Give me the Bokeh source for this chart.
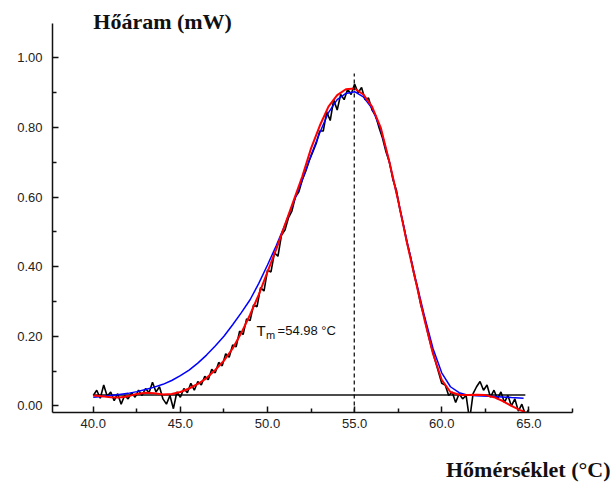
from bokeh.plotting import figure
from bokeh.models import Label, FixedTicker, Range1d, NumeralTickFormatter
from bokeh.embed import file_html
from bokeh.resources import INLINE

data_x = [40.0, 40.2, 40.4, 40.6, 40.8, 41.0, 41.2, 41.4, 41.6, 41.8,
          42.0, 42.2, 42.4, 42.6, 42.8, 43.0, 43.2, 43.4, 43.6, 43.8,
          44.0, 44.2, 44.4, 44.6, 44.8, 45.0, 45.2, 45.4, 45.6, 45.8,
          46.0, 46.2, 46.4, 46.6, 46.8, 47.0, 47.2, 47.4, 47.6, 47.8,
          48.0, 48.2, 48.4, 48.6, 48.8, 49.0, 49.2, 49.4, 49.6, 49.8,
          50.0, 50.2, 50.4, 50.6, 50.8, 51.0, 51.2, 51.4, 51.6, 51.8,
          52.0, 52.2, 52.4, 52.6, 52.8, 53.0, 53.2, 53.4, 53.6, 53.8,
          54.0, 54.2, 54.4, 54.6, 54.8, 55.0, 55.2, 55.4, 55.6, 55.8,
          56.0, 56.2, 56.4, 56.6, 56.8, 57.0, 57.2, 57.4, 57.6, 57.8,
          58.0, 58.2, 58.4, 58.6, 58.8, 59.0, 59.2, 59.4, 59.6, 59.8,
          60.0, 60.2, 60.4, 60.6, 60.8, 61.0, 61.2, 61.4, 61.6, 61.8,
          62.0, 62.2, 62.4, 62.6, 62.8, 63.0, 63.2, 63.4, 63.6, 63.8,
          64.0, 64.2, 64.4, 64.6, 64.8, 65.0]
data_y = [0.030, 0.045, 0.022, 0.060, 0.028, 0.040, 0.015, 0.035, 0.005, 0.030,
          0.020, 0.038, 0.025, 0.045, 0.030, 0.050, 0.038, 0.068, 0.040, 0.055,
          0.020, 0.005, 0.030, -0.008, 0.040, 0.025, 0.050, 0.038, 0.065, 0.045,
          0.070, 0.060, 0.085, 0.075, 0.105, 0.095, 0.125, 0.115, 0.150, 0.140,
          0.175, 0.170, 0.215, 0.205, 0.250, 0.245, 0.290, 0.285, 0.340, 0.330,
          0.390, 0.385, 0.440, 0.430, 0.490, 0.505, 0.540, 0.560, 0.600, 0.615,
          0.650, 0.675, 0.705, 0.730, 0.755, 0.790, 0.790, 0.845, 0.820, 0.880,
          0.850, 0.895, 0.880, 0.910, 0.895, 0.925, 0.900, 0.915, 0.880, 0.885,
          0.850, 0.835, 0.800, 0.770, 0.730, 0.700, 0.650, 0.620, 0.565, 0.520,
          0.470, 0.430, 0.380, 0.340, 0.290, 0.255, 0.210, 0.170, 0.135, 0.100,
          0.065, 0.060, 0.030, 0.040, 0.010, 0.035, 0.020, 0.030, -0.040, 0.035,
          0.055, 0.070, 0.045, 0.060, 0.025, 0.045, 0.020, 0.040, 0.010, 0.030,
          0.000, 0.020, -0.015, 0.005, -0.025, -0.010]

# ---- red fit ----
red_x = [40.0, 40.5, 41.0, 41.5, 42.0, 42.5, 43.0, 43.5, 44.0, 44.5,
         45.0, 45.5, 46.0, 46.5, 47.0, 47.5, 48.0, 48.5, 49.0, 49.5,
         50.0, 50.5, 51.0, 51.5, 52.0, 52.5, 53.0, 53.5, 54.0, 54.5,
         55.0, 55.5, 56.0, 56.5, 57.0, 57.5, 58.0, 58.5, 59.0, 59.5,
         60.0, 60.5, 61.0, 61.5, 62.0, 62.5, 63.0, 63.5, 64.0, 64.5, 64.8]
red_y = [0.030, 0.028, 0.025, 0.024, 0.028, 0.034, 0.038, 0.036, 0.033, 0.034,
         0.040, 0.050, 0.063, 0.080, 0.103, 0.130, 0.165, 0.210, 0.262, 0.320,
         0.385, 0.450, 0.520, 0.590, 0.660, 0.740, 0.805, 0.860, 0.893, 0.910,
         0.912, 0.895, 0.860, 0.800, 0.700, 0.590, 0.470, 0.360, 0.250, 0.150,
         0.075, 0.040, 0.032, 0.031, 0.032, 0.031, 0.025, 0.014, 0.000, -0.012, -0.018]

# ---- blue fit ----
blue_x = [40.0, 40.5, 41.0, 41.5, 42.0, 42.5, 43.0, 43.5, 44.0, 44.5,
          45.0, 45.5, 46.0, 46.5, 47.0, 47.5, 48.0, 48.5, 49.0, 49.5,
          50.0, 50.5, 51.0, 51.5, 52.0, 52.5, 53.0, 53.5, 54.0, 54.5,
          55.0, 55.5, 56.0, 56.5, 57.0, 57.5, 58.0, 58.5, 59.0, 59.5,
          60.0, 60.5, 61.0, 61.5, 62.0, 63.0, 64.0, 64.7]
blue_y = [0.025, 0.027, 0.030, 0.033, 0.036, 0.041, 0.047, 0.054, 0.062, 0.073,
          0.087, 0.103, 0.123, 0.146, 0.172, 0.200, 0.233, 0.268, 0.305, 0.352,
          0.405, 0.460, 0.520, 0.585, 0.650, 0.720, 0.785, 0.843, 0.880, 0.898,
          0.903, 0.888, 0.855, 0.795, 0.700, 0.590, 0.475, 0.365, 0.260, 0.165,
          0.095, 0.055, 0.038, 0.031, 0.029, 0.027, 0.024, 0.022]

baseline_x = [40.0, 64.8]
baseline_y = [0.031, 0.031]
tm_value = 54.98
tm_line_y = [-0.019, 0.955]

y_ticks = [0.0, 0.2, 0.4, 0.6, 0.8, 1.0]
y_minor = [0.1, 0.3, 0.5, 0.7, 0.9]
x_ticks = [40, 45, 50, 55, 60, 65]
x_minor = [42.5, 47.5, 52.5, 57.5, 62.5, 67.5]

y_title = "Hőáram (mW)"
x_title = "Hőmérséklet (°C)"

# axis extents (the frame itself reaches to the top and right edge of the page)
x_axis_bounds = (37.66, 67.5)
y_axis_bounds = (-0.019, 1.1)

p = figure(width=613, height=484, output_backend="svg", toolbar_location=None,
           x_range=Range1d(37.66, 69.86), y_range=Range1d(-0.019, 1.165),
           min_border_left=52, min_border_right=0, min_border_top=0,
           min_border_bottom=72)
p.outline_line_color = None
p.xgrid.visible = False
p.ygrid.visible = False
p.background_fill_color = "white"
p.border_fill_color = "white"

for ax in (p.xaxis[0], p.yaxis[0]):
    ax.axis_line_color = "#111111"
    ax.axis_line_width = 1.5
    ax.major_tick_line_color = "#111111"
    ax.major_tick_line_width = 1.5
    ax.minor_tick_line_color = "#111111"
    ax.minor_tick_line_width = 1.5
    ax.major_tick_in = 6
    ax.major_tick_out = 0
    ax.minor_tick_in = 4
    ax.minor_tick_out = 0
    ax.major_label_text_font = "Liberation Sans"
    ax.major_label_text_font_size = "13px"
    ax.major_label_text_color = "#222222"

p.yaxis.bounds = y_axis_bounds
p.xaxis.bounds = x_axis_bounds
p.yaxis.ticker = FixedTicker(ticks=y_ticks, minor_ticks=y_minor)
p.xaxis.ticker = FixedTicker(ticks=x_ticks, minor_ticks=x_minor)
p.yaxis.formatter = NumeralTickFormatter(format="0.00")
p.xaxis.formatter = NumeralTickFormatter(format="0.0")
p.yaxis.major_label_standoff = 10
p.xaxis.major_label_standoff = 6

# x title as the axis label; it is centred on the page's right edge, so
# non-breaking spaces after it put the visible words left of that edge
p.xaxis.axis_label = x_title + "\u00a0" * 31
p.xaxis.axis_label_align = "end"
p.xaxis.axis_label_standoff = 26
p.xaxis.axis_label_text_font = "Liberation Serif"
p.xaxis.axis_label_text_font_style = "bold"
p.xaxis.axis_label_text_font_size = "22px"
p.xaxis.axis_label_text_color = "#111111"

# baseline
p.line(baseline_x, baseline_y, line_color="#111111", line_width=1.5)
# measured data
p.line(data_x, data_y, line_color="black", line_width=1.6)
# fits
p.line(blue_x, blue_y, line_color="#0000ff", line_width=1.5)
p.line(red_x, red_y, line_color="#ff0000", line_width=2)
# Tm dashed line
p.line([tm_value, tm_value], tm_line_y, line_color="black", line_width=1.2,
       line_dash="4 3")

# y title
p.add_layout(Label(x=40.0, y=1.105, text=y_title, text_font="Liberation Serif",
                   text_font_style="bold", text_font_size="22px",
                   text_color="#111111", text_baseline="middle", text_align="left"))

# Tm annotation
p.add_layout(Label(x=49.37, y=0.218, text="T", text_font="Liberation Sans",
                   text_font_size="15px", text_color="#111111",
                   text_baseline="alphabetic", text_align="left"))
p.add_layout(Label(x=49.92, y=0.203, text="m", text_font="Liberation Sans",
                   text_font_size="11px", text_color="#111111",
                   text_baseline="alphabetic", text_align="left"))
p.add_layout(Label(x=50.58, y=0.218, text="=54.98 °C", text_font="Liberation Sans",
                   text_font_size="13px", text_color="#111111",
                   text_baseline="alphabetic", text_align="left"))

open("out.html", "w").write(file_html(p, INLINE))
